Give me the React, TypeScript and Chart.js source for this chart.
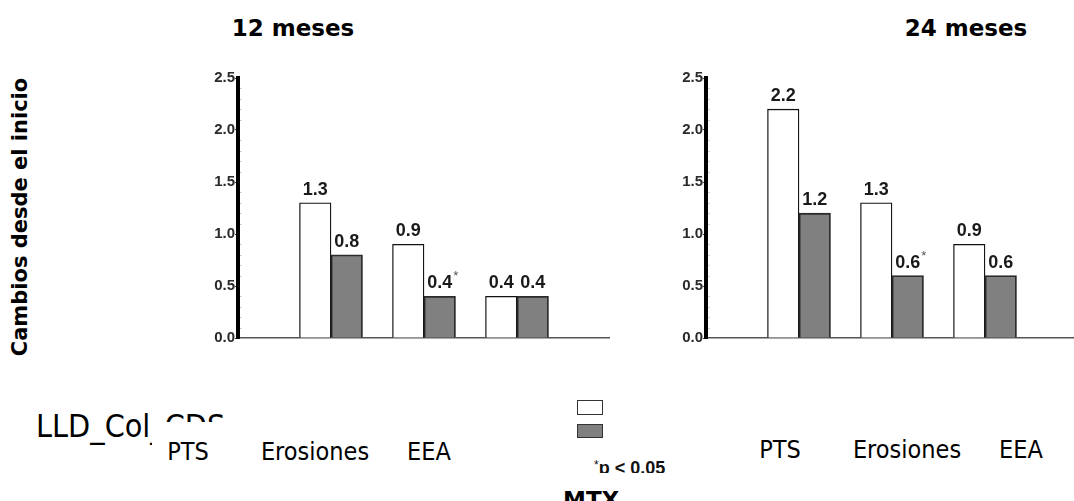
import React, { useEffect, useRef } from 'react';
import { Chart, registerables } from 'chart.js';

Chart.register(...registerables);

// ---------- data ----------
const categories = ['PTS', 'Erosiones', 'EEA'];
const panelTitles = ['12 meses', '24 meses'];
const months12Open = [1.3, 0.9, 0.4];
const months12Filled = [0.8, 0.4, 0.4];
const months12FilledSig = [false, true, false];
const months24Open = [2.2, 1.3, 0.9];
const months24Filled = [1.2, 0.6, 0.6];
const months24FilledSig = [false, true, false];
const yMin = 0;
const yMax = 2.5;
const yStep = 0.5;
const yMinorStep = 0.1;
const yTitle = 'Cambios desde el inicio';
const stubLabel = 'LLD_Col_CDS';
const footnoteStar = '*';
const footnoteText = 'p < 0.05';
const groupLabel = 'MTX';

// ---------- layout (not data) ----------
const ARIAL = '"Liberation Sans", Arial, sans-serif';
const DEJAVU = '"DejaVu Sans", Verdana, sans-serif';
const CONDENSED = '"DejaVu Sans Condensed", "DejaVu Sans", sans-serif';
const leftLabelX = [188, 315, 429];
const rightLabelX = [780, 907, 1021];

const minorTicks = {
  id: 'minorTicks',
  afterDraw(chart: any) {
    const y = chart.scales.y;
    const { ctx, chartArea } = chart;
    ctx.save();
    ctx.strokeStyle = '#c4c4c4';
    ctx.lineWidth = 1;
    const n = Math.round((yMax - yMin) / yMinorStep);
    const per = Math.round(yStep / yMinorStep);
    for (let i = 1; i < n; i++) {
      if (i % per === 0) continue;
      const py = Math.round(y.getPixelForValue(yMin + i * yMinorStep)) + 0.5;
      ctx.beginPath();
      ctx.moveTo(chartArea.left + 2, py);
      ctx.lineTo(chartArea.left + 3.5, py);
      ctx.stroke();
    }
    ctx.restore();
  },
};

const valueLabels = {
  id: 'valueLabels',
  afterDatasetsDraw(chart: any) {
    const ctx = chart.ctx;
    chart.data.datasets.forEach((ds: any, di: number) => {
      const meta = chart.getDatasetMeta(di);
      meta.data.forEach((el: any, i: number) => {
        const raw = ds.data[i];
        const v = typeof raw === 'object' ? raw.y : raw;
        const text = Number(v).toFixed(1);
        const base = el.y - 8;
        ctx.save();
        ctx.font = `bold 18px ${ARIAL}`;
        ctx.fillStyle = '#1a1a1a';
        ctx.textAlign = 'center';
        ctx.textBaseline = 'alphabetic';
        ctx.fillText(text, el.x, base);
        if (ds.sig && ds.sig[i]) {
          const w = ctx.measureText(text).width;
          ctx.font = `13px ${ARIAL}`;
          ctx.fillStyle = '#555';
          ctx.textAlign = 'left';
          ctx.textBaseline = 'top';
          ctx.fillText('*', el.x + w / 2 + 1, base - 18);
        }
        ctx.restore();
      });
    });
  },
};

function buildConfig(open: number[], filled: number[], filledSig: boolean[]): any {
  return {
    type: 'bar',
    data: {
      datasets: [
        {
          label: 'open',
          data: open.map((v, i) => ({ x: i + 1, y: v })),
          backgroundColor: '#ffffff',
          borderColor: '#111111',
          borderWidth: 1.3,
          barThickness: 31.5,
          sig: open.map(() => false),
        },
        {
          label: 'filled',
          data: filled.map((v, i) => ({ x: i + 1, y: v })),
          backgroundColor: '#808080',
          borderColor: '#2b2b2b',
          borderWidth: 1.8,
          barThickness: 31.5,
          sig: filledSig,
        },
      ],
    },
    options: {
      animation: false,
      responsive: false,
      maintainAspectRatio: false,
      layout: { padding: { top: 18, bottom: 10, left: 0, right: 0 } },
      plugins: {
        legend: { display: false },
        tooltip: { enabled: false },
        title: { display: false },
      },
      scales: {
        x: {
          type: 'linear',
          min: 0,
          max: categories.length + 1,
          offset: false,
          grid: { display: true, drawOnChartArea: false, drawTicks: false },
          ticks: { display: false },
          border: { display: true, color: '#555', width: 1.5 },
          afterFit: (s: any) => {
            s.height = 2;
          },
        },
        y: {
          min: yMin,
          max: yMax,
          ticks: {
            stepSize: yStep,
            padding: 0,
            color: '#2a2a2a',
            font: { family: ARIAL, weight: 'bold', size: 15 },
            callback: (v: any) => Number(v).toFixed(1),
          },
          grid: { drawOnChartArea: false, drawTicks: true, tickLength: 3, color: '#444' },
          border: { display: true, color: '#000', width: 4 },
          afterFit: (s: any) => {
            s.width = 40;
          },
        },
      },
    },
    plugins: [minorTicks, valueLabels],
  };
}

function Panel(props: { left: number; open: number[]; filled: number[]; sig: boolean[] }) {
  const ref = useRef<HTMLCanvasElement>(null);
  useEffect(() => {
    if (!ref.current) return;
    const chart = new Chart(ref.current, buildConfig(props.open, props.filled, props.sig));
    return () => chart.destroy();
  }, []);
  return (
    <canvas
      ref={ref}
      width={412}
      height={290}
      style={{ position: 'absolute', left: props.left, top: 60, width: 412, height: 290 }}
    />
  );
}

function Txt(props: { x: number; base: number; size: number; family: string; bold?: boolean; center?: boolean; children: any; stretch?: boolean }) {
  return (
    <div
      style={{
        position: 'absolute',
        left: props.x,
        top: props.base - 0.846 * props.size,
        fontSize: props.size,
        lineHeight: 1,
        fontFamily: props.family,
        fontWeight: props.bold ? 'bold' : 'normal',
        fontStretch: props.stretch ? 'condensed' : 'normal',
        whiteSpace: 'nowrap',
        color: '#000',
        transform: props.center ? 'translateX(-50%)' : undefined,
      }}
    >
      {props.children}
    </div>
  );
}

export default function App() {
  return (
    <div
      style={{
        position: 'fixed',
        left: 0,
        top: 0,
        width: 1074,
        height: 501,
        overflow: 'hidden',
        background: '#fff',
      }}
    >
      <Panel left={198} open={months12Open} filled={months12Filled} sig={months12FilledSig} />
      <Panel left={666} open={months24Open} filled={months24Filled} sig={months24FilledSig} />

      <Txt x={293} base={36} size={23} family={DEJAVU} bold center>
        {panelTitles[0]}
      </Txt>
      <Txt x={966} base={36} size={23} family={DEJAVU} bold center>
        {panelTitles[1]}
      </Txt>

      <div
        style={{
          position: 'absolute',
          left: 19.5,
          top: 217,
          transform: 'translate(-50%, -50%) rotate(-90deg)',
          fontFamily: DEJAVU,
          fontWeight: 'bold',
          fontSize: 21,
          lineHeight: 1,
          whiteSpace: 'nowrap',
          color: '#000',
        }}
      >
        {yTitle}
      </div>

      <Txt x={36} base={437} size={32} family={CONDENSED} stretch>
        {stubLabel}
      </Txt>
      <div style={{ position: 'absolute', left: 152, top: 422, width: 330, height: 45, background: '#fff' }} />

      {categories.map((c, i) => (
        <Txt key={'l' + c} x={leftLabelX[i]} base={460} size={25} family={CONDENSED} stretch center>
          {c}
        </Txt>
      ))}
      {categories.map((c, i) => (
        <Txt key={'r' + c} x={rightLabelX[i]} base={458.5} size={25} family={CONDENSED} stretch center>
          {c}
        </Txt>
      ))}

      <div style={{ position: 'absolute', left: 577, top: 400, width: 24, height: 13, background: '#fff', border: '1px solid #333' }} />
      <div style={{ position: 'absolute', left: 577, top: 424, width: 24, height: 12, background: '#808080', border: '1px solid #333' }} />

      <div style={{ position: 'absolute', left: 594, top: 455, width: 90, height: 18, overflow: 'hidden' }}>
        <div
          style={{
            position: 'absolute',
            left: 0,
            top: 19 - 0.846 * 18,
            fontFamily: ARIAL,
            fontWeight: 'bold',
            fontSize: 18,
            lineHeight: 1,
            whiteSpace: 'nowrap',
            color: '#111',
          }}
        >
          <span style={{ fontSize: 12, verticalAlign: 'top', fontWeight: 'normal' }}>{footnoteStar}</span>
          {footnoteText}
        </div>
      </div>

      <Txt x={563} base={508.5} size={23} family={DEJAVU} bold>
        {groupLabel}
      </Txt>
    </div>
  );
}
